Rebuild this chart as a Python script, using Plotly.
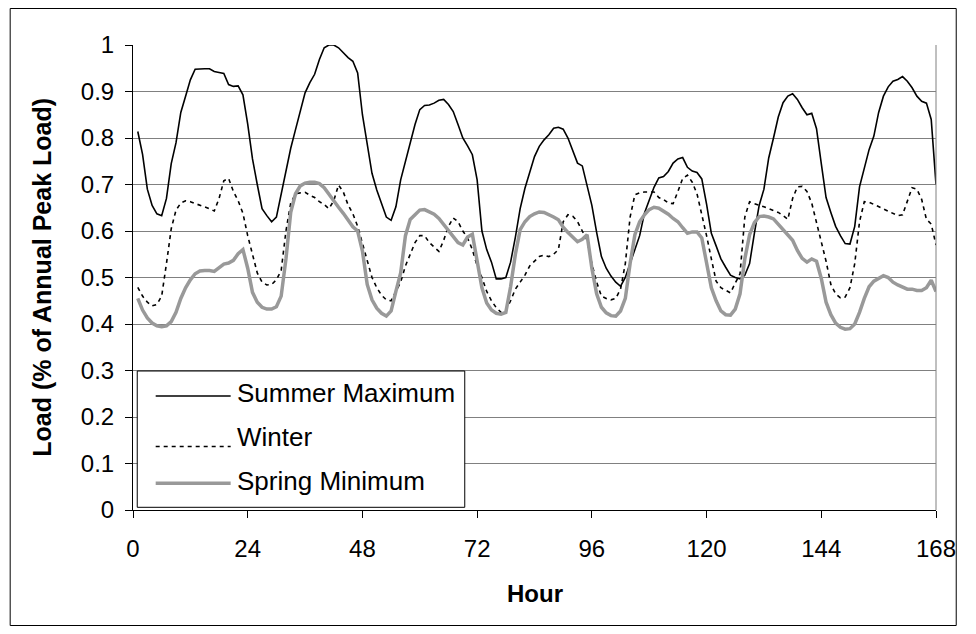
import plotly.graph_objects as go

hours = list(range(1, 169))

summer_max = [
    0.814, 0.765, 0.69, 0.655, 0.637, 0.633, 0.67, 0.745, 0.79, 0.855, 0.89, 0.925,
    0.948, 0.949, 0.949, 0.949, 0.943, 0.941, 0.939, 0.915, 0.911, 0.912, 0.893, 0.83,
    0.755, 0.70, 0.648, 0.633, 0.62, 0.63, 0.68, 0.73, 0.778, 0.818, 0.857, 0.897,
    0.919, 0.937, 0.969, 0.994, 1.0, 1.0, 0.994, 0.983, 0.973, 0.965, 0.94, 0.85,
    0.79, 0.724, 0.688, 0.66, 0.63, 0.623, 0.652, 0.71, 0.75, 0.789, 0.829, 0.861,
    0.87, 0.871, 0.875, 0.881, 0.883, 0.872, 0.857, 0.829, 0.80, 0.783, 0.764, 0.71,
    0.60, 0.56, 0.533, 0.497, 0.497, 0.50, 0.533, 0.587, 0.648, 0.692, 0.728, 0.76,
    0.782, 0.796, 0.807, 0.821, 0.823, 0.819, 0.80, 0.771, 0.746, 0.74, 0.70, 0.655,
    0.597, 0.545, 0.52, 0.503, 0.49, 0.481, 0.50, 0.53, 0.558, 0.59, 0.638, 0.668,
    0.694, 0.714, 0.717, 0.728, 0.746, 0.755, 0.758, 0.737, 0.729, 0.726, 0.712, 0.658,
    0.595, 0.568, 0.54, 0.522, 0.505, 0.50, 0.497, 0.505, 0.53, 0.595, 0.655, 0.69,
    0.757, 0.80, 0.845, 0.876, 0.89, 0.895, 0.883, 0.865, 0.85, 0.853, 0.82, 0.745,
    0.672, 0.64, 0.61, 0.59, 0.573, 0.572, 0.61, 0.695, 0.735, 0.775, 0.804, 0.855,
    0.89, 0.91, 0.922, 0.926, 0.932, 0.922, 0.908, 0.89, 0.879, 0.875, 0.84, 0.70,
]

winter = [
    0.479, 0.46, 0.447, 0.439, 0.442, 0.46, 0.53, 0.605, 0.645, 0.66, 0.665, 0.663,
    0.659, 0.656, 0.652, 0.648, 0.643, 0.67, 0.708, 0.713, 0.685, 0.665, 0.638, 0.59,
    0.55, 0.51, 0.49, 0.484, 0.485, 0.495, 0.515, 0.60, 0.66, 0.68, 0.682, 0.683,
    0.677, 0.672, 0.663, 0.657, 0.648, 0.665, 0.699, 0.684, 0.656, 0.637, 0.61, 0.572,
    0.533, 0.50, 0.478, 0.462, 0.452, 0.45, 0.47, 0.49, 0.525, 0.55, 0.575, 0.59,
    0.59, 0.575, 0.565, 0.556, 0.58, 0.61, 0.628, 0.62, 0.60, 0.585, 0.56, 0.525,
    0.50, 0.47, 0.45, 0.435, 0.425, 0.43, 0.45, 0.475, 0.49, 0.505, 0.525, 0.535,
    0.545, 0.548, 0.545, 0.55, 0.56, 0.62, 0.635, 0.632, 0.62, 0.60, 0.58, 0.53,
    0.49, 0.46, 0.455, 0.452, 0.455, 0.475, 0.53, 0.63, 0.678, 0.682, 0.684, 0.684,
    0.684, 0.672, 0.668, 0.66, 0.659, 0.685, 0.713, 0.72, 0.705, 0.68, 0.638, 0.59,
    0.54, 0.492, 0.478, 0.472, 0.467, 0.488, 0.508, 0.63, 0.663, 0.659, 0.656, 0.652,
    0.648, 0.644, 0.64, 0.633, 0.625, 0.67, 0.695, 0.696, 0.685, 0.66, 0.62, 0.578,
    0.535, 0.485, 0.465, 0.456, 0.458, 0.478, 0.53, 0.62, 0.663, 0.662, 0.657, 0.652,
    0.648, 0.642, 0.637, 0.633, 0.635, 0.666, 0.693, 0.69, 0.668, 0.625, 0.615, 0.57,
]

spring_min = [
    0.455, 0.43, 0.413, 0.402, 0.396, 0.394, 0.396, 0.405, 0.425, 0.455, 0.478, 0.495,
    0.508, 0.514, 0.515, 0.515, 0.513, 0.522, 0.529, 0.531, 0.537, 0.551, 0.56, 0.52,
    0.468, 0.447, 0.436, 0.432, 0.432, 0.437, 0.46, 0.54, 0.64, 0.68, 0.697, 0.703,
    0.705, 0.705, 0.702, 0.693, 0.678, 0.666, 0.651, 0.638, 0.623, 0.609, 0.60, 0.557,
    0.485, 0.452, 0.434, 0.423, 0.417, 0.428, 0.47, 0.51, 0.59, 0.625, 0.635, 0.645,
    0.646, 0.64, 0.636, 0.627, 0.614, 0.603, 0.589, 0.575, 0.57, 0.587, 0.593, 0.53,
    0.478, 0.445, 0.43, 0.423, 0.421, 0.425, 0.48, 0.55, 0.603, 0.62, 0.631, 0.637,
    0.641, 0.64, 0.636, 0.63, 0.624, 0.608, 0.597, 0.586, 0.577, 0.582, 0.592, 0.52,
    0.465, 0.436, 0.424, 0.418, 0.417, 0.428, 0.455, 0.53, 0.592, 0.62, 0.635, 0.646,
    0.651, 0.649, 0.643, 0.636, 0.627, 0.62, 0.607, 0.595, 0.598, 0.598, 0.585, 0.528,
    0.478, 0.45, 0.428, 0.42, 0.419, 0.432, 0.465, 0.54, 0.592, 0.618, 0.631, 0.632,
    0.63, 0.626, 0.615, 0.604, 0.591, 0.58, 0.558, 0.541, 0.533, 0.54, 0.535, 0.498,
    0.447, 0.42, 0.402, 0.393, 0.389, 0.39, 0.40, 0.425, 0.455, 0.48, 0.492, 0.498,
    0.504, 0.50, 0.49, 0.484, 0.479, 0.475, 0.475, 0.472, 0.472, 0.478, 0.494, 0.47,
]

x_ticks = [0, 24, 48, 72, 96, 120, 144, 168]
series_names = ["Summer Maximum", "Winter", "Spring Minimum"]

FONT = "Liberation Sans, Arial, sans-serif"

fig = go.Figure()
fig.add_trace(go.Scatter(x=hours, y=summer_max, mode="lines", name=series_names[0],
                         line=dict(color="black", width=1.6), showlegend=False))
fig.add_trace(go.Scatter(x=hours, y=winter, mode="lines", name=series_names[1],
                         line=dict(color="black", width=1.6, dash="4px,4px"), showlegend=False))
fig.add_trace(go.Scatter(x=hours, y=spring_min, mode="lines", name=series_names[2],
                         line=dict(color="#999999", width=3.5), showlegend=False))

# page is offset by the 8px body margin
OFF = 8
W, H = 960, 618
L, R, T, B = 125, 21, 37, 116
pw, ph = W - L - R, H - T - B


def px(xp):
    return (xp - OFF - L) / pw


def py(yp):
    return (H - B - (yp - OFF)) / ph


shapes = [
    # right plot border
    dict(type="line", xref="paper", yref="paper", x0=1, x1=1, y0=0, y1=1,
         line=dict(color="#808080", width=1), layer="above"),
    # outer chart border
    dict(type="rect", xref="paper", yref="paper", x0=px(8.5), x1=px(967.5), y0=py(625.5), y1=py(8.5),
         line=dict(color="black", width=1), fillcolor="rgba(0,0,0,0)", layer="below"),
    # legend box
    dict(type="rect", xref="paper", yref="paper", x0=px(137.3), x1=px(469.3), y0=py(507.3), y1=py(371),
         line=dict(color="black", width=1), fillcolor="white", layer="above"),
    dict(type="line", xref="paper", yref="paper", x0=px(156), x1=px(232), y0=py(396), y1=py(396),
         line=dict(color="black", width=1.6), layer="above"),
    dict(type="line", xref="paper", yref="paper", x0=px(156), x1=px(232), y0=py(446.5), y1=py(446.5),
         line=dict(color="black", width=1.6, dash="4px,4px"), layer="above"),
    dict(type="line", xref="paper", yref="paper", x0=px(156), x1=px(232), y0=py(483.3), y1=py(483.3),
         line=dict(color="#999999", width=3.5), layer="above"),
]

annotations = [
    dict(text=series_names[0], xref="paper", yref="paper", x=px(236), y=py(392.7),
         xanchor="left", yanchor="middle", showarrow=False, font=dict(family=FONT, size=26, color="black")),
    dict(text=series_names[1], xref="paper", yref="paper", x=px(236), y=py(437.3),
         xanchor="left", yanchor="middle", showarrow=False, font=dict(family=FONT, size=26, color="black")),
    dict(text=series_names[2], xref="paper", yref="paper", x=px(236), y=py(480.7),
         xanchor="left", yanchor="middle", showarrow=False, font=dict(family=FONT, size=26, color="black")),
    dict(text="<b>Hour</b>", xref="paper", yref="paper", x=0.5, y=py(593.3),
         xanchor="center", yanchor="middle", showarrow=False, font=dict(family=FONT, size=24, color="black")),
    dict(text="<b>Load (% of Annual Peak Load)</b>", xref="paper", yref="paper", x=px(40), y=0.5,
         xanchor="center", yanchor="middle", textangle=-90, showarrow=False,
         font=dict(family=FONT, size=25, color="black")),
]

fig.update_layout(
    width=W, height=H,
    margin=dict(l=L, r=R, t=T, b=B, pad=0),
    paper_bgcolor="white", plot_bgcolor="white",
    font=dict(family=FONT, color="black"),
    shapes=shapes, annotations=annotations,
    showlegend=False,
    xaxis=dict(range=[0, 168], tickmode="array", tickvals=x_ticks, ticktext=[str(v) for v in x_ticks],
               ticks="outside", ticklen=7, tickcolor="black", tickwidth=1,
               showline=True, linecolor="black", linewidth=1, showgrid=False, zeroline=False,
               tickfont=dict(family=FONT, size=24, color="black"), ticklabelstandoff=10),
    yaxis=dict(range=[0, 1], tick0=0, dtick=0.1, ticks="outside", ticklen=7, tickcolor="black",
               tickwidth=1, showline=True, linecolor="black", linewidth=1,
               showgrid=True, gridcolor="#808080", gridwidth=1, zeroline=False,
               tickfont=dict(family=FONT, size=24, color="black"), ticklabelstandoff=6),
)

fig.write_html("out.html")
